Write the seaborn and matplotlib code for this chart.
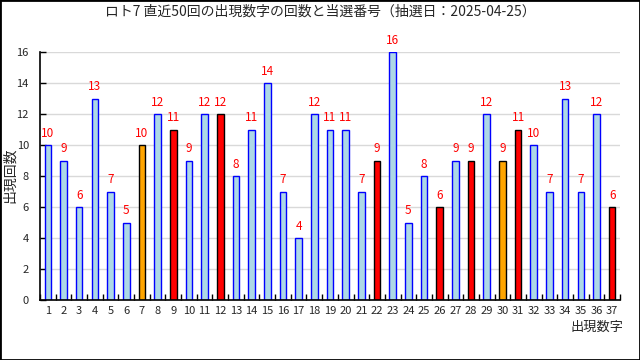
import matplotlib
matplotlib.use("Agg")
import matplotlib.pyplot as plt
import seaborn as sns
import pandas as pd
from matplotlib.patches import Rectangle
from matplotlib.ticker import FixedLocator

numbers = list(range(1, 38))
counts = [10, 9, 6, 13, 7, 5, 10, 12, 11, 9, 12, 12, 8, 11, 14, 7, 4, 12, 11, 11,
          7, 9, 16, 5, 8, 6, 9, 9, 12, 9, 11, 10, 7, 13, 7, 12, 6]
main_numbers = [9, 12, 22, 26, 28, 31, 37]
bonus_numbers = [7, 30]

title = "ロト7 直近50回の出現数字の回数と当選番号（抽選日：2025-04-25）"
ylabel = "出現回数"
xlabel = "出現数字"

sns.set_theme(style="white")
plt.rcParams['font.family'] = ['Noto Sans CJK JP', 'DejaVu Sans']

df = pd.DataFrame({"num": [str(n) for n in numbers], "count": counts})
fills, edges = [], []
for n in numbers:
    if n in main_numbers:
        fills.append("#ff0000"); edges.append("#000000")
    elif n in bonus_numbers:
        fills.append("#ffa500"); edges.append("#000000")
    else:
        fills.append("#add8e6"); edges.append("#0000ff")

fig = plt.figure(figsize=(6.4, 3.6), dpi=100)
ax = fig.add_axes([40/640, 1-300/360, 580/640, 248/360])
sns.barplot(data=df, x="num", y="count", hue="num", palette=fills, legend=False,
            width=0.42, ax=ax, order=df["num"], hue_order=df["num"], saturation=1)
for p, ec in zip(ax.patches, edges):
    p.set_edgecolor(ec)
    p.set_linewidth(1.0)

ax.set_xlim(-0.5, 36.5)
ax.set_ylim(0, 16)
ax.set_yticks(range(0, 17, 2))
ax.yaxis.grid(True, color="#d9d9d9", linewidth=1)
ax.set_axisbelow(True)
for s in ["top", "right"]:
    ax.spines[s].set_visible(False)
for s in ["left", "bottom"]:
    ax.spines[s].set_color("black")
    ax.spines[s].set_linewidth(1.2)

ax.tick_params(axis="y", direction="in", length=4, width=1, color="black",
               labelsize=8, pad=8, left=True)
ax.tick_params(axis="x", which="major", length=0, labelsize=8, pad=4)
ax.xaxis.set_minor_locator(FixedLocator([i - 0.5 for i in range(0, 38)]))
ax.tick_params(axis="x", which="minor", direction="in", length=4, width=1,
               color="black", bottom=True)

for i, v in enumerate(counts):
    ax.text(i, v + 0.35, str(v), ha="center", va="bottom", color="red", fontsize=8.5)

ax.set_xlabel("")
ax.set_ylabel("")
fig.text(10/640, 1-175/360, ylabel, rotation=90, ha="center", va="center", fontsize=10)
fig.text(597/640, 1-327/360, xlabel, ha="center", va="center", fontsize=9.5)
fig.text(0.5, 1-12/360, title, ha="center", va="center", fontsize=10)

fig.patches.append(Rectangle((0, 0), 1, 1, transform=fig.transFigure, fill=False,
                             edgecolor="black", linewidth=2))
fig.savefig("out.png", dpi=100)
